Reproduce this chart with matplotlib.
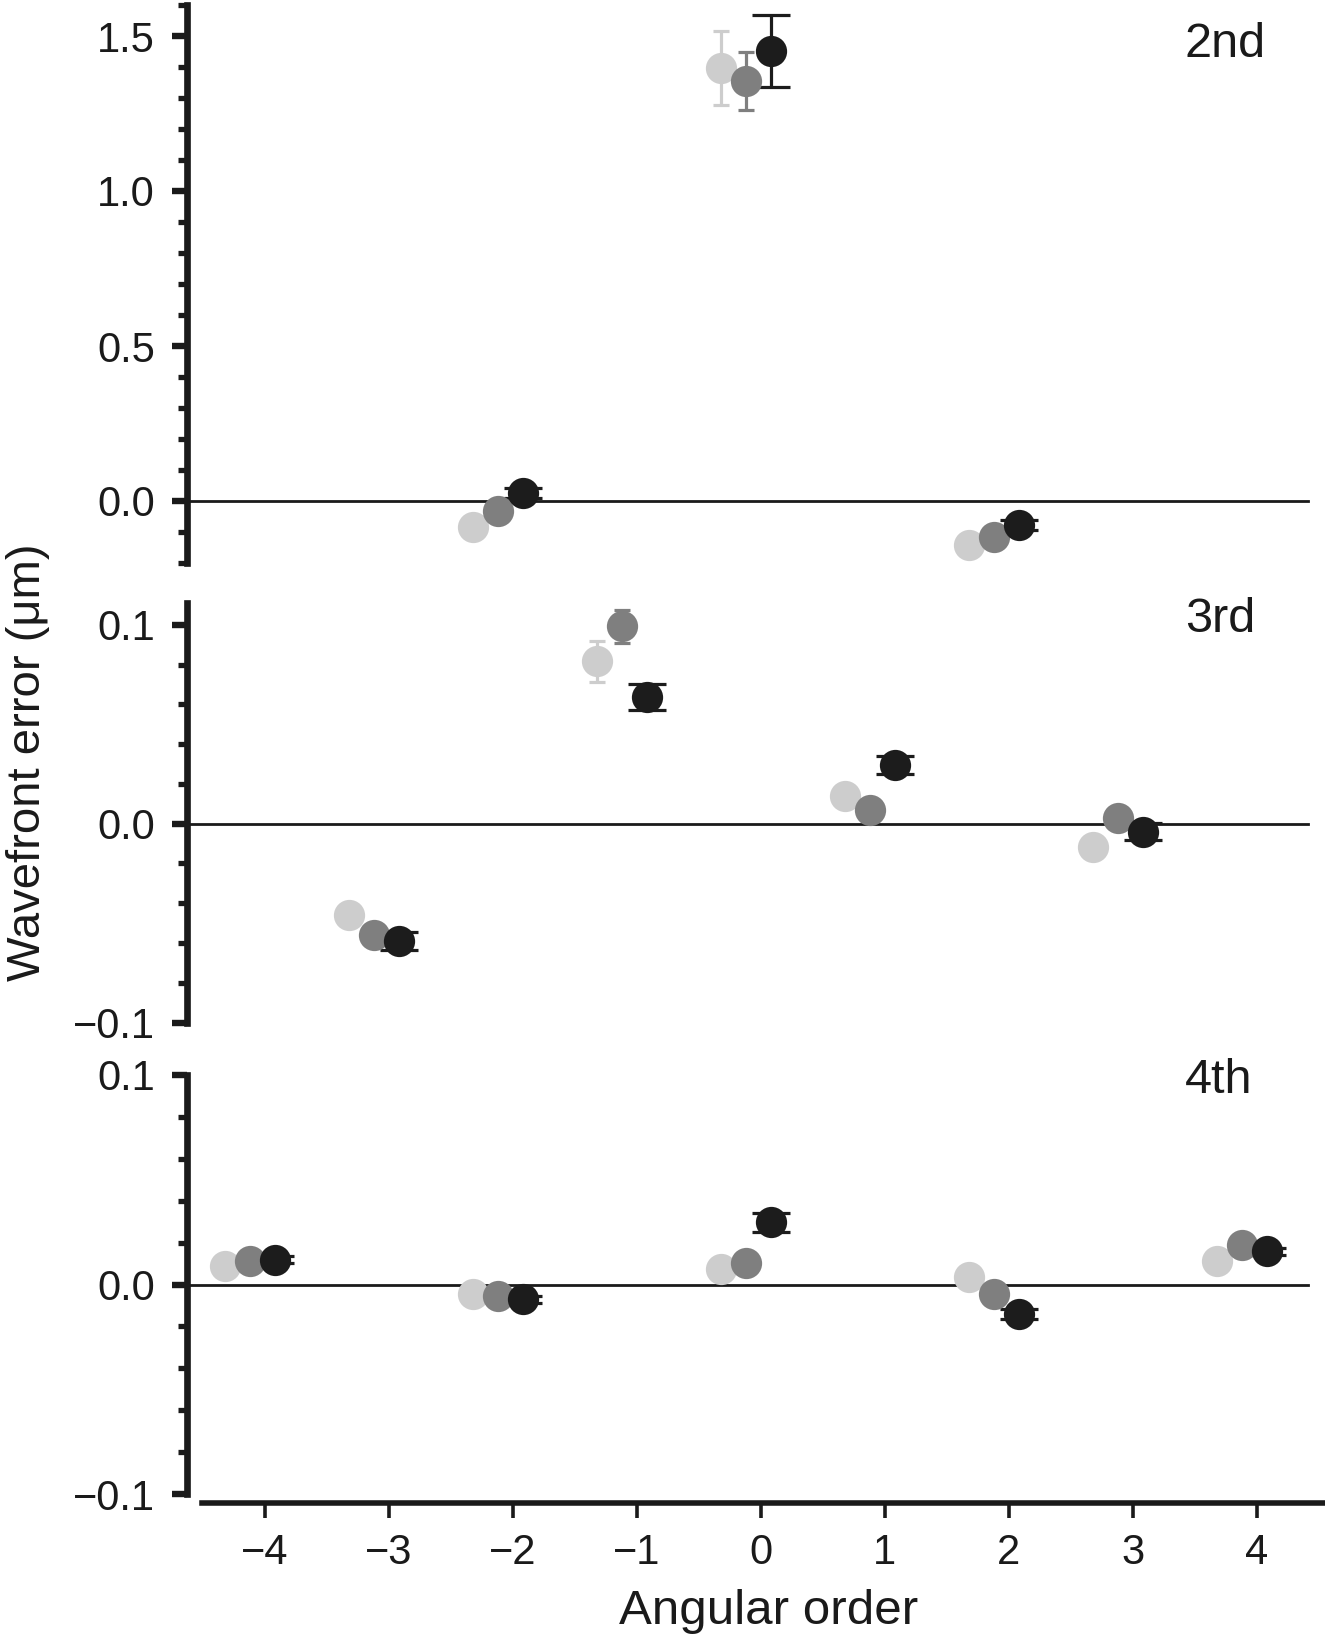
import matplotlib
matplotlib.use("Agg")
import matplotlib.pyplot as plt
from matplotlib.ticker import MultipleLocator, FixedLocator, FuncFormatter

plt.rcParams['font.family'] = ['Liberation Sans', 'DejaVu Sans']

# ---------------- data ----------------
orders2 = [-2, 0, 2]
light2 = [-0.084, 1.397, -0.142]
mid2 = [-0.032, 1.355, -0.116]
dark2 = [0.026, 1.452, -0.077]
light2_err = [0.003, 0.118, 0.003]
mid2_err = [0.003, 0.095, 0.003]
dark2_err = [0.016, 0.115, 0.017]

orders3 = [-3, -1, 1, 3]
light3 = [-0.046, 0.0817, 0.0141, -0.0116]
mid3 = [-0.056, 0.0992, 0.0070, 0.0030]
dark3 = [-0.059, 0.0637, 0.0296, -0.0040]
light3_err = [0.0005, 0.0104, 0.0005, 0.0005]
mid3_err = [0.0005, 0.0082, 0.0005, 0.0005]
dark3_err = [0.0046, 0.0065, 0.0045, 0.0044]

orders4 = [-4, -2, 0, 2, 4]
light4 = [0.0088, -0.0046, 0.0076, 0.0035, 0.0114]
mid4 = [0.0114, -0.0056, 0.0105, -0.0045, 0.0188]
dark4 = [0.0119, -0.0071, 0.0296, -0.0140, 0.0158]
light4_err = [0.0003, 0.0003, 0.0003, 0.0003, 0.0003]
mid4_err = [0.0003, 0.0003, 0.0003, 0.0003, 0.0003]
dark4_err = [0.0015, 0.0018, 0.0045, 0.0024, 0.0015]

panel_labels = ["2nd", "3rd", "4th"]
x_ticks = [-4, -3, -2, -1, 0, 1, 2, 3, 4]
x_label = "Angular order"
y_label = "Wavefront error (\u03bcm)"

# ---------------- style ----------------
W, H, DPI = 1325, 1636, 100
C_LIGHT, C_MID, C_DARK = '#cdcdcd', '#7f7f7f', '#1c1c1c'
OFFSETS = [-0.32, -0.12, 0.08]
MS = 22.5
XLIM = (-4.63, 4.55)

fig = plt.figure(figsize=(W / DPI, H / DPI), dpi=DPI)

left = 187 / W
width = (W - 187) / W
def box(top_px, bot_px):
    return [left, 1 - bot_px / H, width, (bot_px - top_px) / H]

ax1 = fig.add_axes(box(5, 563))
ax2 = fig.add_axes(box(603, 1022.5))
ax3 = fig.add_axes(box(1075, 1494))

minus_fmt = FuncFormatter(lambda v, p: ("%.1f" % v).replace('-', '\u2212'))

def draw(ax, orders, series, ylim, majors, minor_step):
    ax.set_xlim(*XLIM)
    ax.set_ylim(*ylim)
    ax.axhline(0, xmin=0, xmax=0.985, color='#1a1a1a', lw=2.0, zorder=1)
    for (vals, errs, col, cap), off in zip(series, OFFSETS):
        xs = [o + off for o in orders]
        ax.errorbar(xs, vals, yerr=errs, fmt='o', ms=MS, color=col,
                    mfc=col, mec='none', ecolor=col, elinewidth=2.3,
                    capsize=cap, capthick=2.3, zorder=2)
    for s in ['top', 'right']:
        ax.spines[s].set_visible(False)
    ax.spines['left'].set_linewidth(4.8)
    ax.spines['left'].set_color('#1a1a1a')
    ax.yaxis.set_major_locator(FixedLocator(majors))
    ax.yaxis.set_minor_locator(MultipleLocator(minor_step))
    ax.yaxis.set_major_formatter(minus_fmt)
    ax.tick_params(axis='y', which='major', length=11, width=4.6,
                   labelsize=30, pad=12, color='#1a1a1a', labelcolor='#1a1a1a')
    ax.tick_params(axis='y', which='minor', length=6.5, width=3.8,
                   color='#1a1a1a')

draw(ax1, orders2, [(light2, light2_err, C_LIGHT, 6), (mid2, mid2_err, C_MID, 6),
                    (dark2, dark2_err, C_DARK, 14)],
     (-0.2, 1.6), [0.0, 0.5, 1.0, 1.5], 0.1)
draw(ax2, orders3, [(light3, light3_err, C_LIGHT, 6), (mid3, mid3_err, C_MID, 6),
                    (dark3, dark3_err, C_DARK, 14)],
     (-0.1, 0.111), [-0.1, 0.0, 0.1], 0.02)
draw(ax3, orders4, [(light4, light4_err, C_LIGHT, 6), (mid4, mid4_err, C_MID, 6),
                    (dark4, dark4_err, C_DARK, 14)],
     (-0.1, 0.1), [-0.1, 0.0, 0.1], 0.02)

for ax in (ax1, ax2):
    ax.spines['bottom'].set_visible(False)
    ax.tick_params(axis='x', which='both', bottom=False, labelbottom=False)

ax3.spines['bottom'].set_position(('outward', 6.5))
ax3.spines['bottom'].set_bounds(-4.51, XLIM[1])
ax3.spines['bottom'].set_linewidth(4.0)
ax3.spines['bottom'].set_color('#1a1a1a')
ax3.set_xticks(x_ticks)
ax3.xaxis.set_major_formatter(FuncFormatter(lambda v, p: ("%d" % v).replace('-', '\u2212')))
ax3.tick_params(axis='x', which='major', length=10.8, width=2.6, labelsize=30,
                pad=11, color='#1a1a1a', labelcolor='#1a1a1a')

# panel labels
for txt, (xr, yb) in zip(panel_labels, [(1266, 57), (1255, 632), (1252, 1093)]):
    fig.text(xr / W, 1 - yb / H, txt, ha='right', va='baseline', fontsize=35,
             color='#1a1a1a')

fig.text(769 / W, 1 - 1624 / H, x_label, ha='center', va='baseline',
         fontsize=35.5, color='#1a1a1a')
fig.text(28 / W, 1 - 762 / H, y_label, ha='center', va='center', rotation=90,
         fontsize=34, color='#1a1a1a')

fig.savefig("out.png", dpi=DPI)
